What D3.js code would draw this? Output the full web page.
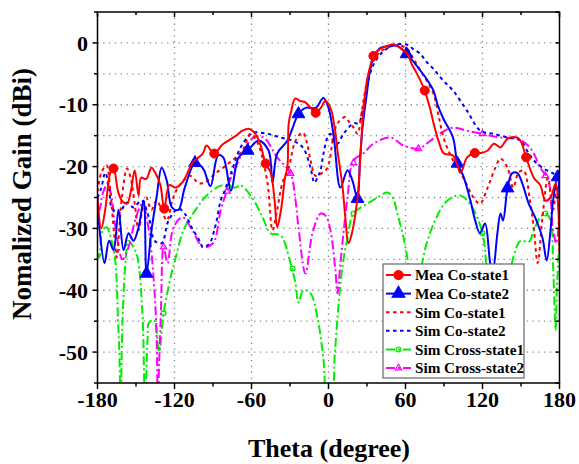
<!DOCTYPE html>
<html>
<head>
<meta charset="utf-8">
<script src="https://cdn.jsdelivr.net/npm/d3@7"></script>
<style>
  body { margin: 0; background: #fff; }
</style>
</head>
<body>
<svg id="chart" width="579" height="464" font-family="'Liberation Serif', 'Times New Roman', Tinos, 'DejaVu Serif', serif" font-weight="bold"></svg>
<script>
// theta (deg), gain (dB) pairs
const meaCo1 = [[-180,-25],[-177,-30],[-174,-27],[-170,-21],[-167.5,-20.3],[-164,-24],[-161,-25.5],[-157,-26],[-154,-24],[-151,-20.6],[-148,-24.7],[-146,-21.8],[-142,-22],[-138,-20.2],[-135,-21],[-131,-23],[-128,-26.8],[-124,-23],[-119,-23.4],[-113,-22.3],[-106,-19.4],[-98,-17.9],[-95,-16.6],[-89,-17.9],[-83,-16.5],[-78,-15.8],[-72,-15],[-67,-14.2],[-62,-13.9],[-57,-14.7],[-53,-16.5],[-49,-19.5],[-45,-21],[-42,-25.5],[-40,-29.8],[-37,-27],[-34,-22],[-32,-20],[-31,-13],[-29,-11],[-26,-9],[-22,-9.4],[-18,-9.6],[-14,-10.5],[-10,-11.3],[-6,-10.5],[-2.5,-9.4],[1.5,-10.5],[5,-14],[7,-17.4],[11,-23.4],[13,-28],[15.6,-32.4],[18,-31],[22.6,-25],[25,-18],[27,-11.5],[30,-6],[33,-3.4],[35,-2.1],[40,-1],[46,-0.5],[50.6,-0.2],[56,-0.8],[61.5,-1.8],[65,-3.5],[69,-5],[75,-7.7],[79,-10.5],[82,-13.1],[86,-16],[90,-17.9],[97,-18.2],[100,-19.5],[103,-21],[108,-18.5],[114,-17.8],[119,-17.8],[124,-17.4],[129,-16.3],[134,-16.9],[139.5,-15.5],[147,-15.3],[150,-16],[154,-18.5],[160,-21.8],[165,-23],[169,-25.5],[173,-25],[177,-22.7],[179,-26.6],[180,-34]];
const meaCo1Marks = [[-167.5,-20.3],[-128,-26.8],[-89,-17.9],[-49,-19.5],[-10,-11.3],[35,-2.1],[75,-7.7],[114,-17.8],[154,-18.5]];

const meaCo2 = [[-180,-25],[-178.6,-29.8],[-174.5,-35.6],[-171,-32],[-167.5,-33.5],[-163.6,-27],[-159.7,-33.5],[-155.8,-30.8],[-152,-32],[-148,-29.8],[-144,-25.5],[-141.8,-37.3],[-137.9,-30.3],[-134,-25],[-130,-20.2],[-126,-22.3],[-122,-26.6],[-117,-27],[-112,-23.4],[-104,-19.4],[-100,-19.8],[-97,-20.6],[-92,-23.2],[-86,-18.2],[-82,-18.5],[-76,-23.9],[-70,-18.5],[-63,-17.4],[-54.5,-15.8],[-46.7,-17.4],[-43.6,-22.6],[-40,-17.9],[-32,-15.8],[-23.4,-11.5],[-18,-10.5],[-10,-10.5],[-4,-8.9],[0,-10.5],[4,-15],[9.3,-23.4],[14.8,-20.6],[18.7,-22.3],[22.6,-25.2],[24.5,-19],[26.5,-13.7],[30,-8],[32.7,-4],[36,-2],[40.5,-0.8],[48,-0.5],[53.7,-0.5],[60.8,-1.8],[66,-3],[71.7,-4.5],[77,-6],[81.8,-7.7],[85,-10],[89.6,-12.3],[97,-15.3],[100.5,-19.5],[105,-21.5],[110.6,-25.5],[114,-28.5],[118,-30.8],[122,-29.2],[126,-35.6],[128,-37],[131.6,-30.8],[134,-27.6],[136,-28.7],[139.5,-23.5],[143,-21.1],[147,-21],[151,-22.7],[156,-26],[161,-28.2],[166.7,-31.5],[170,-35.2],[173,-30.3],[175,-25.5],[178.5,-21.7],[180,-25]];
const meaCo2Marks = [[-141.8,-37.3],[-104,-19.4],[-63,-17.4],[-23.4,-11.5],[22.6,-25.2],[60.8,-1.8],[100.5,-19.5],[139.5,-23.5],[178.5,-21.7]];

const simCo1 = [[-180,-24],[-177,-21],[-173,-19.8],[-170,-24],[-167,-31],[-165,-34.7],[-163,-30],[-161,-25],[-157,-20.3],[-154,-22],[-151,-26],[-148,-30.3],[-145,-27],[-142,-25],[-138,-27],[-134,-25.5],[-130,-27],[-126,-28.7],[-121,-25],[-116,-23],[-108,-21.5],[-101,-22.7],[-96,-22.5],[-88,-21.1],[-78,-19.5],[-67,-17.4],[-61,-14.7],[-57,-15.5],[-53,-17.4],[-47.5,-22.7],[-43.6,-30.3],[-40,-27],[-36,-22.7],[-31,-20.2],[-25.7,-15.8],[-20,-14.5],[-17,-16],[-14,-19],[-10,-21.5],[-4.7,-21],[-0.8,-20.2],[3.9,-15],[7,-13],[13,-12],[15,-12.5],[19.5,-13.7],[22.6,-14.7],[26,-11],[29,-7.3],[35,-2.9],[40,-1.5],[46,-0.8],[53.7,-0.3],[61.5,-1],[66,-2.5],[71.7,-4.5],[77,-6.3],[81.8,-8.2],[86,-12],[89.6,-15.3],[97,-19],[105,-21.8],[113,-25],[118,-26],[124,-23.4],[130,-20.2],[134,-18.7],[139.5,-20.2],[144,-23.4],[148,-21],[152,-20.6],[157,-25.5],[160,-30],[163,-35.6],[166.7,-28.2],[171,-21.8],[175,-27],[178,-23],[180,-25]];

const simCo2 = [[-180,-25],[-177,-23.4],[-174,-21],[-171,-23.4],[-169,-26.6],[-163.6,-27.6],[-157,-25.8],[-152,-26.6],[-145.7,-25.5],[-140,-28.2],[-135.5,-32],[-130,-32.4],[-124.6,-28.7],[-117,-26.8],[-112,-27.6],[-106.7,-29.8],[-100.5,-32],[-98,-33],[-93,-32.5],[-88,-29.5],[-84,-25.5],[-80,-23.5],[-76,-21.1],[-68.5,-16.9],[-62,-15],[-58.4,-14.5],[-47.5,-14.7],[-37.4,-15.3],[-28,-15.8],[-20,-16.9],[-14,-20.2],[-11,-22.6],[-8,-21.5],[-6.2,-20.6],[-3.9,-17.9],[-0.8,-15.3],[1.5,-14.7],[4,-16],[7,-16.3],[11.7,-14.7],[19.5,-13],[23.4,-13],[27,-10.5],[30,-7],[34,-4],[38,-2.5],[43,-1.3],[52,-0.3],[61.5,-0.3],[66,-1],[71.7,-1.8],[76,-3],[81.8,-4.2],[89,-6],[97,-7.7],[108,-11],[118.4,-14.2],[128.5,-14.7],[139.5,-15.3],[149.6,-15.8],[155,-17.5],[160,-19],[167.5,-20.3],[175,-21.1],[180,-22]];

const simCross1 = [[-180,-34],[-178.6,-34.7],[-176,-30.3],[-173,-29.8],[-169,-32],[-166,-35.6],[-164,-44.8],[-163,-50],[-162,-58],[-160.5,-45],[-158,-35],[-155.8,-32],[-152,-33],[-148.8,-34.7],[-145,-43.7],[-143,-58],[-141,-48],[-140,-45.3],[-136,-44.8],[-132,-50],[-128.5,-43.7],[-123,-37.9],[-119,-34.7],[-113,-30.3],[-103.6,-27],[-93.5,-24.4],[-82.6,-23],[-72.4,-23.4],[-68.5,-23],[-59,-25.2],[-51.4,-28.2],[-45,-30.8],[-37.4,-31.1],[-29.6,-35.6],[-25.7,-38.9],[-23.4,-42],[-19.5,-40],[-14,-40.5],[-8.6,-44.4],[-3.9,-51.3],[-0.8,-58],[2,-58],[5,-50],[8,-42],[11,-36],[14.8,-31.5],[19.5,-27.6],[30.4,-26],[38,-25],[46,-24.2],[50,-25],[53.7,-27.6],[60,-33],[64,-38.9],[66,-42],[69,-50],[71,-44],[73,-35.6],[82,-29.2],[92.7,-25.5],[103,-24.7],[112,-26.6],[120,-30.8],[123,-36],[127,-45],[131,-50],[135,-45],[139.5,-40],[144,-34.7],[149.6,-32],[156,-32.2],[160,-30.3],[165,-28.2],[169,-27.6],[173,-28.7],[175,-36],[177,-46.5],[178,-39.5],[180,-32]];
const simCross1Marks = [[-128.5,-43.7],[-78,-23.2],[-28,-36.5],[19.5,-27.6],[120,-30.8],[169,-27.6]];

const simCross2 = [[-180,-27],[-178.6,-27],[-176,-24.4],[-172,-22.7],[-169,-25],[-166,-29.8],[-160.5,-35],[-155.8,-33],[-150,-28.2],[-145,-26],[-140,-30.3],[-136,-38.9],[-134,-47],[-133,-58],[-132,-52],[-130.6,-43.7],[-128.5,-33],[-125.4,-35.6],[-120.7,-29.8],[-113.7,-28.2],[-106,-30.3],[-98,-33],[-90,-32.4],[-84,-27],[-80,-24.4],[-76,-21.8],[-66,-17.4],[-58.4,-15.3],[-50.6,-15.3],[-40,-18.5],[-29.6,-21.1],[-26,-25],[-23.4,-29.8],[-18,-37.3],[-12.5,-30.8],[-6.2,-27.6],[-2,-28],[1.5,-30.3],[5.4,-36.8],[7,-40.5],[9.3,-35.6],[14.8,-25],[19.5,-19],[27,-17.9],[35,-16.3],[48,-15.3],[58.4,-16.6],[70,-17.1],[79.5,-15.8],[88,-14.5],[97,-13.7],[108,-14.2],[120,-14.7],[134,-15.3],[147,-15.5],[155,-16.5],[160,-17.9],[165,-20.2],[171,-22],[175,-30.3],[177.6,-32.4],[180,-27]];
const simCross2Marks = [[-128.5,-33],[-79,-24],[-29.6,-21.1],[19.5,-19.4],[70,-17.1],[120,-14.7],[169,-21.5]];

const xTicks = [-180, -120, -60, 0, 60, 120, 180];
const yTicks = [0, -10, -20, -30, -40, -50];
const legendNames = ["Mea Co-state1", "Mea Co-state2", "Sim Co-state1", "Sim Co-state2", "Sim Cross-state1", "Sim Cross-state2"];

const svg = d3.select("#chart");
const x = d3.scaleLinear().domain([-180, 180]).range([97.5, 559.5]);
const y = d3.scaleLinear().domain([-55, 5]).range([383, 12]);

svg.append("defs").append("clipPath").attr("id", "plot")
    .append("rect").attr("x", 97.5).attr("y", 12).attr("width", 462).attr("height", 371);

// grid
const grid = svg.append("g").attr("stroke", "#8a8a8a").attr("stroke-width", 1.3).attr("stroke-dasharray", "1.3,4.5");
grid.selectAll(".gh").data(d3.range(0, -55, -5)).enter().append("line")
    .attr("x1", x(-180)).attr("x2", x(180)).attr("y1", d => y(d)).attr("y2", d => y(d));
grid.selectAll(".gv").data([-120, -60, 0, 60, 120]).enter().append("line")
    .attr("y1", y(5)).attr("y2", y(-55)).attr("x1", d => x(d)).attr("x2", d => x(d));

const series = [
    {data: simCross1, color: "#00ee00", dash: "9,3,2,3", marks: simCross1Marks, sym: "circle"},
    {data: simCross2, color: "#ff00ff", dash: "9,3,2,3", marks: simCross2Marks, sym: "triangle"},
    {data: simCo2, color: "#0000ff", dash: "3.5,3.5"},
    {data: simCo1, color: "#ff0000", dash: "3.5,3.5"},
    {data: meaCo2, color: "#0000ff", dash: null, marks: meaCo2Marks, sym: "triangle", big: true},
    {data: meaCo1, color: "#ff0000", dash: null, marks: meaCo1Marks, sym: "circle", big: true}
];

const line = d3.line().x(d => x(d[0])).y(d => y(d[1])).curve(d3.curveCatmullRom.alpha(0.5));
const plot = svg.append("g").attr("clip-path", "url(#plot)");

function symbolPath(sym, big) {
    const type = sym === "circle" ? d3.symbolCircle : d3.symbolTriangle;
    const size = big ? (sym === "circle" ? 64 : 70) : 18;
    return d3.symbol().type(type).size(size)();
}

series.forEach(s => {
    plot.append("path").attr("d", line(s.data)).attr("fill", "none")
        .attr("stroke", s.color).attr("stroke-width", 2)
        .attr("stroke-dasharray", s.dash);
    if (s.marks) {
        plot.selectAll(null).data(s.marks).enter().append("path")
            .attr("d", symbolPath(s.sym, s.big))
            .attr("transform", d => "translate(" + x(d[0]) + "," + y(d[1]) + ")")
            .attr("fill", s.big ? s.color : "none")
            .attr("stroke", s.color).attr("stroke-width", s.big ? 1 : 1.3);
    }
});

// frame and ticks
svg.append("rect").attr("x", 97.5).attr("y", 12).attr("width", 462).attr("height", 371)
    .attr("fill", "none").attr("stroke", "#000").attr("stroke-width", 1.5);

const ticks = svg.append("g").attr("stroke", "#000").attr("stroke-width", 1.5);
d3.range(-180, 181, 30).forEach(t => {
    const major = t % 60 === 0;
    ticks.append("line").attr("x1", x(t)).attr("x2", x(t)).attr("y1", y(-55)).attr("y2", y(-55) + (major ? 6 : 3.5));
    ticks.append("line").attr("x1", x(t)).attr("x2", x(t)).attr("y1", y(5)).attr("y2", y(5) + (major ? 5 : 3));
});
d3.range(-55, 5.1, 5).forEach(v => {
    ticks.append("line").attr("y1", y(v)).attr("y2", y(v)).attr("x1", x(-180)).attr("x2", x(-180) - (v % 10 === 0 ? 5 : 3.5));
    ticks.append("line").attr("y1", y(v)).attr("y2", y(v)).attr("x1", x(180)).attr("x2", x(180) - 4);
});

svg.append("g").selectAll("text").data(xTicks).enter().append("text")
    .attr("x", d => x(d)).attr("y", 407).attr("text-anchor", "middle")
    .attr("font-size", 22).text(d => d);
svg.append("g").selectAll("text").data(yTicks).enter().append("text")
    .attr("x", 88).attr("y", d => y(d)).attr("dy", "0.35em").attr("text-anchor", "end")
    .attr("font-size", 22).text(d => d);

svg.append("text").attr("transform", "translate(31,194) rotate(-90)")
    .attr("text-anchor", "middle").attr("font-size", 27).text("Nomalized Gain (dBi)");
svg.append("text").attr("x", 329).attr("y", 457)
    .attr("text-anchor", "middle").attr("font-size", 26).text("Theta (degree)");

// legend
const legend = svg.append("g");
legend.append("rect").attr("x", 383).attr("y", 264).attr("width", 141).attr("height", 114)
    .attr("fill", "#fff").attr("stroke", "#666").attr("stroke-width", 1.2);
const legendSeries = [series[5], series[4], series[3], series[2], series[0], series[1]];
legendSeries.forEach((s, i) => {
    const ly = 275 + i * 18.6;
    legend.append("line").attr("x1", 386).attr("x2", 411).attr("y1", ly).attr("y2", ly)
        .attr("stroke", s.color).attr("stroke-width", 2).attr("stroke-dasharray", s.dash);
    if (s.sym) {
        legend.append("path").attr("d", symbolPath(s.sym, s.big))
            .attr("transform", "translate(398.5," + ly + ")")
            .attr("fill", s.big ? s.color : "none").attr("stroke", s.color).attr("stroke-width", 1.2);
    }
    legend.append("text").attr("x", 415).attr("y", ly).attr("dy", "0.35em")
        .attr("font-size", 15.2).text(legendNames[i]);
});
</script>
</body>
</html>
